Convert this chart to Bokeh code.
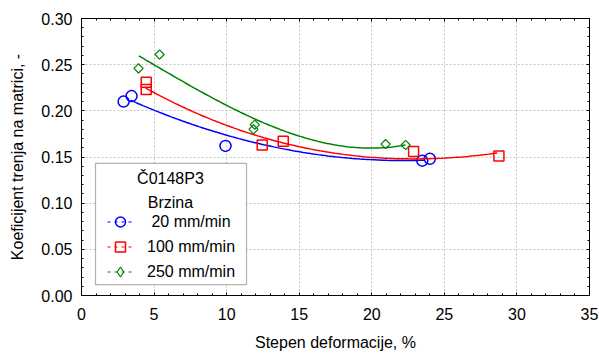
import numpy as np
from bokeh.plotting import figure
from bokeh.models import (Range1d, LinearAxis, FixedTicker, Legend, LegendItem,
                          BoxAnnotation, Label, ColumnDataSource, NumeralTickFormatter)
from bokeh.embed import file_html
from bokeh.resources import INLINE

# ---- data (markers) ----
blue_x = [2.9, 3.45, 9.92, 23.48, 24.0]
blue_y = [0.210, 0.216, 0.162, 0.146, 0.148]
red_x = [4.46, 4.46, 12.45, 13.9, 22.88, 28.76]
red_y = [0.231, 0.223, 0.163, 0.167, 0.156, 0.151]
green_x = [3.93, 5.38, 11.85, 11.94, 20.95, 22.33]
green_y = [0.246, 0.261, 0.180, 0.185, 0.164, 0.163]

# ---- fitted curve samples ----
blue_fit_x = [3.38, 5.0, 10.0, 15.1, 20.0, 23.6]
blue_fit_y = [0.2107, 0.2018, 0.1733, 0.1550, 0.1477, 0.1463]
red_fit_x = [4.41, 5.0, 10.0, 15.1, 20.0, 25.0, 28.65]
red_fit_y = [0.2249, 0.2196, 0.1847, 0.1600, 0.1505, 0.1484, 0.1545]
green_fit_x = [3.95, 5.0, 10.0, 15.1, 20.0, 22.33]
green_fit_y = [0.2594, 0.2498, 0.2071, 0.1700, 0.1620, 0.1620]

series_labels = [" 20 mm/min", "100 mm/min", "250 mm/min"]
legend_title = "Č0148P3"
legend_subtitle = "Brzina"
x_label = "Stepen deformacije, %"
y_label = "Koeficijent trenja na matrici, -"
x_ticks = [0, 5, 10, 15, 20, 25, 30, 35]
y_ticks = [0.0, 0.05, 0.10, 0.15, 0.20, 0.25, 0.30]

FONT = "Liberation Sans"
FS = "16px"

x_minor = [round(v, 4) for v in np.arange(0, 35.001, 1.0)]
y_minor = [round(v, 4) for v in np.arange(0, 0.3001, 0.01)]

p = figure(width=599, height=353, output_backend="svg", toolbar_location=None,
           x_range=Range1d(0, 35), y_range=Range1d(0, 0.30),
           min_border_left=81, min_border_top=18, min_border_right=10, min_border_bottom=54)
p.outline_line_color = "black"
p.outline_line_width = 1
p.background_fill_color = "white"
p.border_fill_color = "white"

xt = FixedTicker(ticks=x_ticks, minor_ticks=x_minor)
yt = FixedTicker(ticks=y_ticks, minor_ticks=y_minor)
p.xaxis.ticker = xt
p.yaxis.ticker = yt
p.yaxis.formatter = NumeralTickFormatter(format="0.00")

for ax in (p.xaxis[0], p.yaxis[0]):
    ax.major_tick_in = 3
    ax.major_tick_out = 0
    ax.minor_tick_in = 2
    ax.minor_tick_out = 0
    ax.axis_line_color = "black"
    ax.major_tick_line_color = "black"
    ax.minor_tick_line_color = "black"
    ax.major_label_text_font = FONT
    ax.major_label_text_font_size = FS
    ax.major_label_text_color = "black"
    ax.axis_label_text_font = FONT
    ax.axis_label_text_font_size = FS
    ax.axis_label_text_font_style = "normal"
    ax.axis_label_text_color = "black"

p.xaxis.axis_label = x_label
p.yaxis.axis_label = y_label
p.xaxis.major_label_standoff = 12
p.xaxis.axis_label_standoff = 11
p.yaxis.major_label_standoff = 9
p.yaxis.axis_label_standoff = 12

# top and right axes with inward ticks, no labels
for loc, tk in (("above", FixedTicker(ticks=x_ticks, minor_ticks=x_minor)),
                ("right", FixedTicker(ticks=y_ticks, minor_ticks=y_minor))):
    ax = LinearAxis(ticker=tk)
    ax.major_tick_in = 3
    ax.major_tick_out = 0
    ax.minor_tick_in = 2
    ax.minor_tick_out = 0
    ax.major_label_text_font_size = "0px"
    ax.major_label_standoff = 0
    ax.axis_line_color = "black"
    p.add_layout(ax, loc)

p.xgrid.grid_line_color = "#c4c4c4"
p.ygrid.grid_line_color = "#c4c4c4"
p.xgrid.grid_line_dash = "2 2"
p.ygrid.grid_line_dash = "2 2"
p.xgrid.ticker = FixedTicker(ticks=x_ticks[1:-1])
p.ygrid.ticker = FixedTicker(ticks=y_ticks[1:-1])

colors = ["#0000ff", "#ff0000", "#008000"]
xs_all = [blue_x, red_x, green_x]
ys_all = [blue_y, red_y, green_y]
fits = [(blue_fit_x, blue_fit_y), (red_fit_x, red_fit_y), (green_fit_x, green_fit_y)]

for i, (xs, ys, c) in enumerate(zip(xs_all, ys_all, colors)):
    fxs, fys = fits[i]
    coef = np.polyfit(fxs, fys, 3)
    fx = np.linspace(min(fxs), max(fxs), 120)
    fy = np.polyval(coef, fx)
    p.line(fx, fy, line_color=c, line_width=1.5)
    if i == 0:
        p.scatter(xs, ys, marker="circle", size=11, fill_color=None, line_color=c, line_width=1.5)
    elif i == 1:
        p.scatter(xs, ys, marker="square", size=10, fill_color=None, line_color=c, line_width=1.5)
    else:
        p.scatter(xs, ys, marker="square", size=6.5, angle=np.pi / 4, fill_color=None,
                  line_color=c, line_width=1.2)

# legend box
box = BoxAnnotation(left=0.965, right=11.37, top=0.143, bottom=0.0117,
                    fill_color="white", fill_alpha=1.0, line_color="black", line_width=1.2)
p.add_layout(box)
p.add_layout(Label(x=6.13, y=0.127, text=legend_title, text_align="center", text_baseline="middle",
                   text_font=FONT, text_font_size=FS, text_color="black"))
p.add_layout(Label(x=6.13, y=0.1003, text=legend_subtitle, text_align="center", text_baseline="middle",
                   text_font=FONT, text_font_size=FS, text_color="black"))

legend_items = []
for i, c in enumerate(colors):
    src = ColumnDataSource(dict(x=[np.nan], y=[np.nan]))
    lr = p.line("x", "y", source=src, line_color=c, line_width=1, line_dash="3 4")
    if i == 0:
        sr = p.scatter("x", "y", source=src, marker="circle", size=10,
                       fill_color=None, line_color=c, line_width=1.5)
    elif i == 1:
        sr = p.scatter("x", "y", source=src, marker="square", size=10,
                       fill_color=None, line_color=c, line_width=1.5)
    else:
        sr = p.scatter("x", "y", source=src, marker="diamond", size=10,
                       fill_color=None, line_color=c, line_width=1.2)
    legend_items.append(LegendItem(label=series_labels[i], renderers=[lr, sr]))

legend = Legend(items=legend_items, location=(26, 11), padding=0, margin=0, spacing=0,
                glyph_width=26, glyph_height=25, label_height=25, label_standoff=14,
                label_text_font=FONT, label_text_font_size=FS, label_text_color="black",
                border_line_alpha=0, background_fill_alpha=0)
p.add_layout(legend, "center")

open("out.html", "w").write(file_html(p, INLINE))
